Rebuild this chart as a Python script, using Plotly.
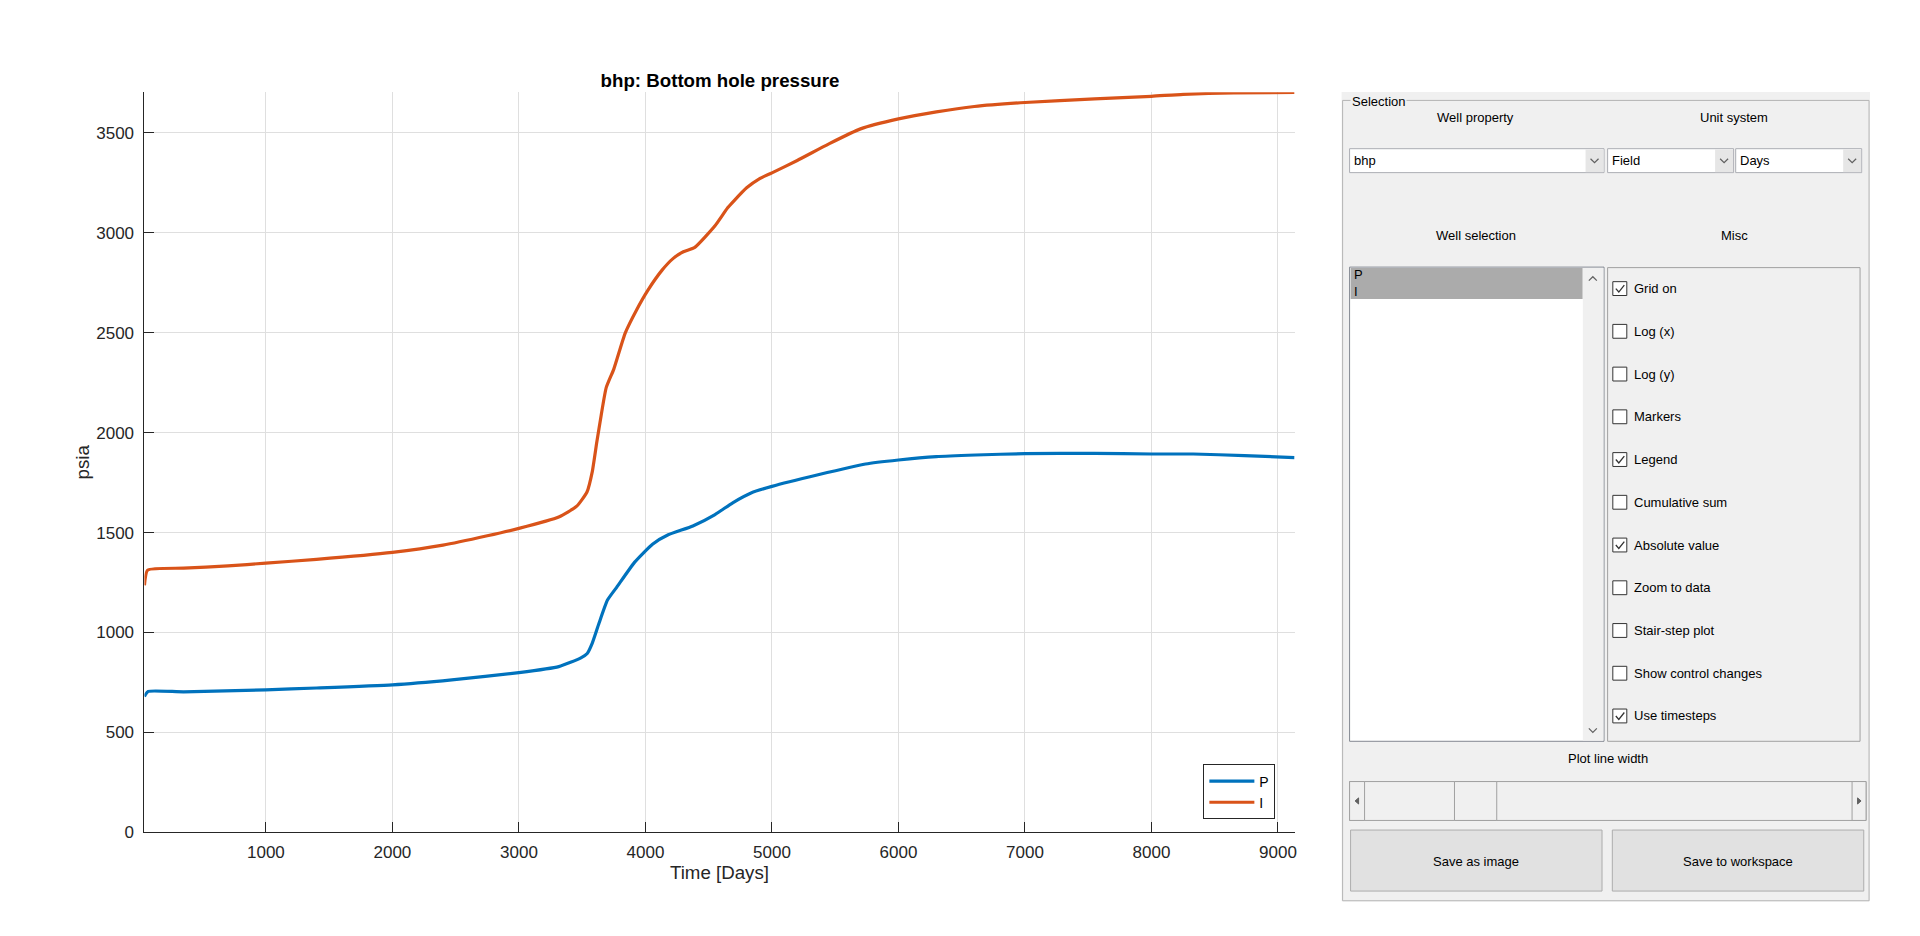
import plotly.graph_objects as go

W, H = 1920, 936

# bottom hole pressure
days_p = [40, 70, 350, 1000, 1400, 2000, 2470, 3000, 3315, 3490, 3540, 3580, 3633, 3700,
          3775, 3915, 4056, 4180, 4375, 4550, 4690, 4835, 5000, 5365, 5740, 6000, 6300,
          6610, 7000, 7550, 8000, 8330, 8735, 9131]
bhp_p = [680, 705, 703, 713, 722, 738, 763, 799, 829, 873, 895, 947, 1046, 1162,
         1228, 1352, 1442, 1489, 1533, 1590, 1649, 1698, 1731, 1789, 1843, 1863, 1880,
         1888, 1895, 1896, 1893, 1893, 1885, 1875]

days_i = [40, 65, 350, 700, 1000, 1400, 2000, 2400, 2750, 3000, 3315, 3457, 3538, 3580,
          3616, 3650, 3690, 3750, 3840, 3930, 4020, 4130, 4220, 4300, 4390, 4550, 4650,
          4700, 4800, 4900, 5000, 5200, 5450, 5700, 6000, 6300, 6600, 7000, 7550, 8000,
          8250, 8650, 9131]
bhp_i = [1236, 1312, 1322, 1333, 1347, 1366, 1401, 1437, 1484, 1521, 1578, 1632, 1703, 1805,
         1954, 2086, 2225, 2318, 2498, 2614, 2713, 2812, 2872, 2905, 2927, 3035, 3125,
         3160, 3225, 3270, 3300, 3362, 3445, 3520, 3570, 3605, 3632, 3652, 3670, 3683,
         3693, 3700, 3702]

x_ticks = [1000, 2000, 3000, 4000, 5000, 6000, 7000, 8000, 9000]
y_ticks = [0, 500, 1000, 1500, 2000, 2500, 3000, 3500]

wells = ["P", "I"]
misc_labels = ["Grid on", "Log (x)", "Log (y)", "Markers", "Legend", "Cumulative sum",
               "Absolute value", "Zoom to data", "Stair-step plot", "Show control changes",
               "Use timesteps"]
misc_checked = [True, False, False, False, True, False, True, False, False, False, True]

FONT = "Liberation Sans, Arial, sans-serif"
AX = "#262626"
GUI_BG = "#F0F0F0"


def fx(x):
    return x / W


def fy(y):
    return 1 - y / H


shapes = []
notes = []


def rect(x0, y0, x1, y1, fill=None, line=None, width=1):
    shapes.append(dict(type="rect", xref="paper", yref="paper",
                       x0=fx(x0), x1=fx(x1), y0=fy(y1), y1=fy(y0),
                       fillcolor=fill or "rgba(0,0,0,0)",
                       line=dict(color=line or "rgba(0,0,0,0)", width=width if line else 0)))


def path(points, color, width=1.2, fill=None):
    d = "M " + " L ".join(f"{fx(x):.6f},{fy(y):.6f}" for x, y in points)
    if fill:
        d += " Z"
    shapes.append(dict(type="path", xref="paper", yref="paper", path=d,
                       fillcolor=fill or "rgba(0,0,0,0)",
                       line=dict(color=color, width=width)))


def text(x, y, s, anchor="center", size=13, bg=None):
    notes.append(dict(xref="paper", yref="paper", x=fx(x), y=fy(y), text=s,
                      showarrow=False, xanchor=anchor, yanchor="middle",
                      font=dict(family=FONT, size=size, color="#000000"),
                      bgcolor=bg, borderpad=1))


def chevron(cx, cy, up=False, color="#606060"):
    s = -1 if up else 1
    path([(cx - 4, cy - 2 * s), (cx, cy + 2 * s), (cx + 4, cy - 2 * s)], color, 1.2)


# ---- side panel (uicontrols) ----
rect(1343, 93, 1872, 911, fill=GUI_BG)
rect(1344, 101.5, 1871, 910.5, line="#B4B4B4")
text(1351, 102.5, "Selection", anchor="left", bg=GUI_BG)

text(1477, 119, "Well property")
text(1736, 119, "Unit system")

for x0, x1, label in [(1351, 1605.7, "bhp"), (1609.3, 1735.4, "Field"), (1737.5, 1863.6, "Days")]:
    rect(x0, 150.3, x1, 174.5, fill="#FFFFFF", line="#ABADB3")
    rect(x1 - 18.5, 151, x1 - 0.5, 174, fill="#E6E6E6")
    chevron(x1 - 9.5, 162.5)
    text(x0 + 2.5, 162.5, label, anchor="left")

text(1477.5, 238.3, "Well selection")
text(1736, 238.3, "Misc")

# well listbox
rect(1351, 270, 1605.7, 749.3, fill="#FFFFFF", line="#828790")
rect(1352, 271, 1584.3, 302.3, fill="#ABABAB")
rect(1584.5, 271, 1605, 748.5, fill=GUI_BG)
chevron(1594.5, 281.7, up=True)
chevron(1594.5, 738.3)
for k, w in enumerate(wells):
    text(1353, 277.7 + 16.6 * k, w, anchor="left")

# misc checkboxes
rect(1609.3, 270.5, 1862, 749.3, line="#A0A0A0")
for k, (lab, on) in enumerate(zip(misc_labels, misc_checked)):
    cy = 291.7 + 43.2 * k
    rect(1614.5, cy - 7, 1628.5, cy + 7, fill="#FFFFFF", line="#333333")
    if on:
        path([(1617.5, cy), (1620.5, cy + 3.5), (1626, cy - 3.5)], "#333333", 1.3)
    text(1633.5, cy, lab, anchor="left")

# line width slider
text(1609.3, 766.7, "Plot line width")
rect(1351, 790, 1868, 829.3, fill=GUI_BG, line="#A0A0A0")
rect(1351, 790, 1366, 829.3, fill=GUI_BG, line="#A0A0A0")
rect(1456, 790, 1498.3, 829.3, fill=GUI_BG, line="#A0A0A0")
rect(1854, 790, 1868, 829.3, fill=GUI_BG, line="#A0A0A0")
path([(1360, 806.5), (1356.5, 809.6), (1360, 812.7)], "#606060", 1, fill="#606060")
path([(1859.5, 806.5), (1863, 809.6), (1859.5, 812.7)], "#606060", 1, fill="#606060")

# buttons
rect(1352, 839, 1603.7, 900.7, fill="#E1E1E1", line="#ADADAD")
rect(1614, 839, 1865.7, 900.7, fill="#E1E1E1", line="#ADADAD")
text(1478, 870.7, "Save as image")
text(1740, 870.7, "Save to workspace")

# ---- plot ----
fig = go.Figure()
fig.add_trace(go.Scatter(x=days_p, y=bhp_p, name="P", mode="lines",
                         line=dict(color="#0072BD", width=3.2, shape="spline", smoothing=0.5)))
fig.add_trace(go.Scatter(x=days_i, y=bhp_i, name="I", mode="lines",
                         line=dict(color="#D95319", width=3.2, shape="spline", smoothing=0.5)))

axis_common = dict(showline=True, linecolor=AX, linewidth=1, mirror=False,
                   ticks="inside", ticklen=10, tickcolor=AX, tickwidth=1,
                   showgrid=True, gridcolor="#DFDFDF", gridwidth=1, zeroline=False,
                   tickfont=dict(family=FONT, size=17, color=AX))

fig.update_layout(
    width=W, height=H, autosize=False,
    margin=dict(l=0, r=0, t=0, b=0),
    paper_bgcolor="#FFFFFF", plot_bgcolor="#FFFFFF",
    title=dict(text="<b>bhp: Bottom hole pressure</b>", x=0.375, y=fy(80.7),
               xanchor="center", yanchor="middle",
               font=dict(family=FONT, size=18.7, color="#000000")),
    xaxis=dict(domain=[fx(144.6), fx(1295.9)], range=[40, 9131],
               tickvals=x_ticks, ticklabelstandoff=4,
               title=dict(text="Time [Days]", standoff=5,
                          font=dict(family=FONT, size=18.7, color=AX)),
               **axis_common),
    yaxis=dict(domain=[fy(841.3), fy(93.3)], range=[0, 3703],
               tickvals=y_ticks, ticklabelstandoff=6,
               title=dict(text="psia", standoff=1,
                          font=dict(family=FONT, size=18.7, color=AX)),
               **axis_common),
    legend=dict(x=fx(1276.7), y=fy(828.3), xanchor="right", yanchor="bottom",
                bgcolor="#FFFFFF", bordercolor=AX, borderwidth=1,
                font=dict(family=FONT, size=14, color="#000000"),
                itemwidth=45, tracegroupgap=0),
    shapes=shapes,
    annotations=notes,
    showlegend=True,
)

fig.write_html("out.html", config={"displayModeBar": False},
               post_script="document.documentElement.style.cssText="
                           "'margin:0;padding:0;overflow:hidden';"
                           "document.body.style.cssText="
                           "'margin:0;padding:0;overflow:hidden';")
